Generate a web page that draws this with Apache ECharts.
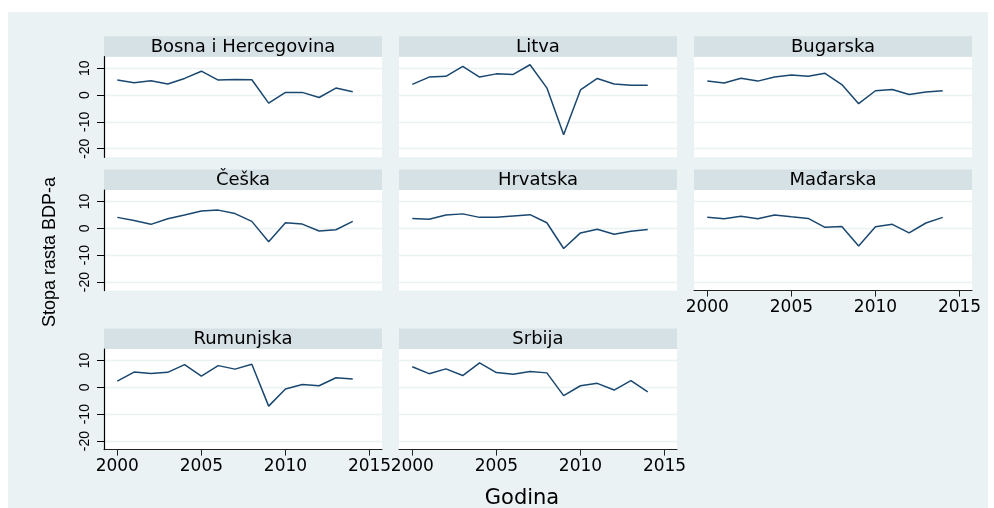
<!DOCTYPE html>
<html>
<head>
<meta charset="utf-8">
<script src="https://cdn.jsdelivr.net/npm/echarts@6/dist/echarts.min.js"></script>
<style>
html,body{margin:0;padding:0;background:#fff;}
#chart{width:994px;height:508px;}
</style>
</head>
<body>
<div id="chart"></div>
<script>
// ---- data ----
var years = [2000,2001,2002,2003,2004,2005,2006,2007,2008,2009,2010,2011,2012,2013,2014];
var countries = ['Bosna i Hercegovina','Litva','Bugarska','Češka','Hrvatska','Mađarska','Rumunjska','Srbija'];
var bosnaIHercegovina = [5.6,4.6,5.3,4.1,6.2,8.9,5.6,5.8,5.7,-3.0,1.0,1.0,-0.9,2.6,1.2];
var litva = [4.0,6.7,7.0,10.7,6.7,7.9,7.7,11.3,2.7,-14.8,1.9,6.2,4.1,3.7,3.7];
var bugarska = [5.2,4.5,6.3,5.2,6.7,7.5,7.0,8.1,3.9,-3.2,1.6,2.1,0.2,1.1,1.6];
var ceska = [4.1,2.9,1.5,3.6,5.0,6.5,6.8,5.5,2.6,-5.0,2.1,1.6,-1.0,-0.5,2.6];
var hrvatska = [3.7,3.4,5.0,5.4,4.1,4.1,4.6,5.1,2.1,-7.5,-1.7,-0.3,-2.2,-1.1,-0.4];
var madarska = [4.1,3.6,4.5,3.6,5.0,4.3,3.7,0.4,0.7,-6.6,0.6,1.5,-1.7,2.0,4.1];
var rumunjska = [2.3,5.7,5.2,5.6,8.5,4.2,8.1,6.8,8.6,-7.0,-0.6,1.1,0.6,3.6,3.1];
var srbija = [7.7,5.1,6.9,4.4,9.1,5.5,4.9,5.9,5.4,-3.1,0.6,1.5,-1.0,2.5,-1.7];
var seriesValues = [bosnaIHercegovina, litva, bugarska, ceska, hrvatska, madarska, rumunjska, srbija];
var yTicks = [-20,-10,0,10];
var xTicks = [2000,2005,2010,2015];
var yTitle = 'Stopa rasta BDP-a';
var xTitle = 'Godina';

// ---- layout ----
var colLeft = [104, 399, 694];
var panelW = 278;
var rowTop = [56.7, 190, 349];
var panelH = 100.6;
var headerH = 20.5;
var yMin = -23.2, yMax = 14.3;
var xMin = 1999.21, xMax = 2015.74;
var showX = [false,false,false,false,false,true,true,true];

var bg = '#eaf2f3';
var strip = 'rgb(214,225,230)';
var lineColor = '#1a476f';

var grids = [], xAxes = [], yAxes = [], series = [], graphics = [];

graphics.push({type:'rect', z:-10, shape:{x:8, y:12, width:980, height:496}, style:{fill:bg}});

countries.forEach(function(name, i){
  var r = Math.floor(i/3), c = i%3;
  var left = colLeft[c], top = rowTop[r];
  grids.push({left:left, top:top, width:panelW, height:panelH, show:true, backgroundColor:'#ffffff', borderWidth:0, containLabel:false});
  graphics.push({type:'rect', shape:{x:left, y:top-headerH, width:panelW, height:headerH}, style:{fill:strip}});
  graphics.push({type:'text', x:left+panelW/2, y:top-headerH/2+0.5, style:{text:name, align:'center', verticalAlign:'middle', font:'18px "DejaVu Sans"', fill:'#000'}});
  var leftCol = (c === 0);
  yAxes.push({
    type:'value', gridIndex:i, min:yMin, max:yMax,
    axisLine:{show:leftCol, onZero:false, lineStyle:{color:'#000', width:1.2}},
    axisTick:{show:leftCol, length:7, inside:false, customValues:yTicks, lineStyle:{color:'#000', width:1}},
    axisLabel:{show:leftCol, customValues:yTicks, rotate:90, margin:12, fontFamily:'Liberation Sans', fontSize:14, color:'#000'},
    splitLine:{show:true, lineStyle:{color:bg, width:1.3}}
  });
  xAxes.push({
    type:'value', gridIndex:i, min:xMin, max:xMax,
    axisLine:{show:showX[i], onZero:false, lineStyle:{color:'#222', width:1}},
    axisTick:{show:showX[i], length:6, customValues:xTicks, lineStyle:{color:'#222', width:1}},
    axisLabel:{show:showX[i], customValues:xTicks, margin:8, fontFamily:'DejaVu Sans', fontSize:17, color:'#000', formatter:function(v){return String(v);}},
    splitLine:{show:false}
  });
  series.push({
    type:'line', name:name, xAxisIndex:i, yAxisIndex:i, showSymbol:false, symbol:'none',
    lineStyle:{color:lineColor, width:1.5}, silent:true, animation:false,
    data: years.map(function(y, k){ return [y, seriesValues[i][k]]; })
  });
});

graphics.push({type:'text', x:50, y:252, rotation:Math.PI/2, style:{text:yTitle, align:'center', verticalAlign:'middle', font:'18px "Liberation Sans"', fill:'#000'}});
graphics.push({type:'text', x:522, y:499, style:{text:xTitle, align:'center', verticalAlign:'middle', font:'21px "DejaVu Sans"', fill:'#000'}});

var chart = echarts.init(document.getElementById('chart'), null, {renderer:'canvas'});
chart.setOption({
  backgroundColor:'#ffffff',
  animation:false,
  grid:grids, xAxis:xAxes, yAxis:yAxes, series:series,
  graphic:{elements:graphics}
});
</script>
</body>
</html>
